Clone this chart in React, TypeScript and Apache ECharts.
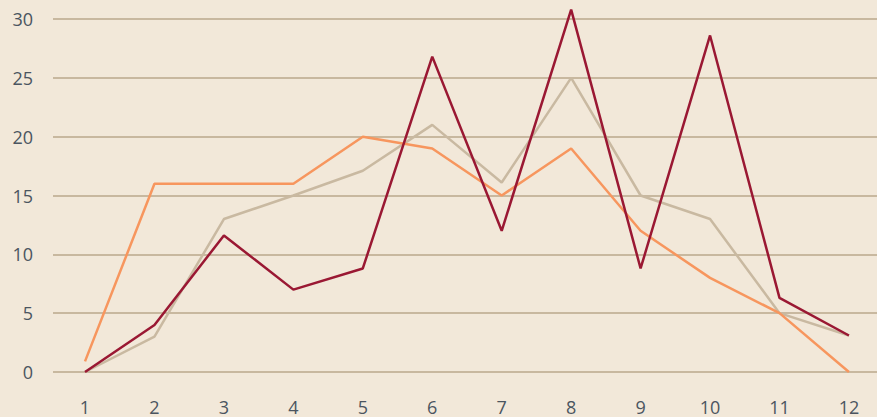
import React, { useEffect, useRef } from "react";
import * as echarts from "echarts";

const months = [1, 2, 3, 4, 5, 6, 7, 8, 9, 10, 11, 12];
const seriesOrange = [0.9, 16, 16, 16, 20, 19, 15, 19, 12, 8, 5, 0];
const seriesTan = [0, 3, 13, 15, 17.1, 21, 16.1, 25, 15, 13, 5, 3.1];
const seriesRed = [0, 4, 11.6, 7, 8.8, 26.8, 12.0, 30.8, 8.8, 28.6, 6.3, 3.1];
const yTicks = [0, 5, 10, 15, 20, 25, 30];

const toPairs = (vals: number[]) => months.map((m, i) => [m, vals[i]]);

export default function App() {
  const ref = useRef<HTMLDivElement>(null);
  useEffect(() => {
    if (!ref.current) return;
    const chart = echarts.init(ref.current, undefined, { renderer: "svg" });
    const labelStyle = {
      color: "#4b5560",
      fontFamily: "'Open Sans', 'Noto Sans', sans-serif",
      fontSize: 18,
    };
    chart.setOption({
      animation: false,
      backgroundColor: "#f2e8d9",
      grid: { left: 53, right: 0, top: 19, bottom: 45, containLabel: false },
      xAxis: {
        type: "value",
        min: 0.539,
        max: 12.404,
        axisLine: { show: false },
        axisTick: { show: false },
        splitLine: { show: false },
        axisLabel: { ...labelStyle, lineHeight: 16, margin: 27, customValues: months },
      },
      yAxis: {
        type: "value",
        min: yTicks[0],
        max: yTicks[yTicks.length - 1],
        interval: 5,
        axisLine: { show: false },
        axisTick: { show: false },
        axisLabel: { ...labelStyle, margin: 20 },
        splitLine: { lineStyle: { color: "#c8b89f", width: 2 } },
      },
      series: [
        {
          type: "line",
          data: toPairs(seriesTan),
          showSymbol: false,
          clip: false,
          lineStyle: { color: "#c9b9a1", width: 2.5 },
        },
        {
          type: "line",
          data: toPairs(seriesOrange),
          showSymbol: false,
          clip: false,
          lineStyle: { color: "#f7965e", width: 2.5 },
        },
        {
          type: "line",
          data: toPairs(seriesRed),
          showSymbol: false,
          clip: false,
          lineStyle: { color: "#9a1833", width: 2.5 },
        },
      ],
    });
    return () => chart.dispose();
  }, []);
  return (
    <div
      ref={ref}
      style={{ position: "absolute", left: 0, top: 0, width: 877, height: 417 }}
    />
  );
}
